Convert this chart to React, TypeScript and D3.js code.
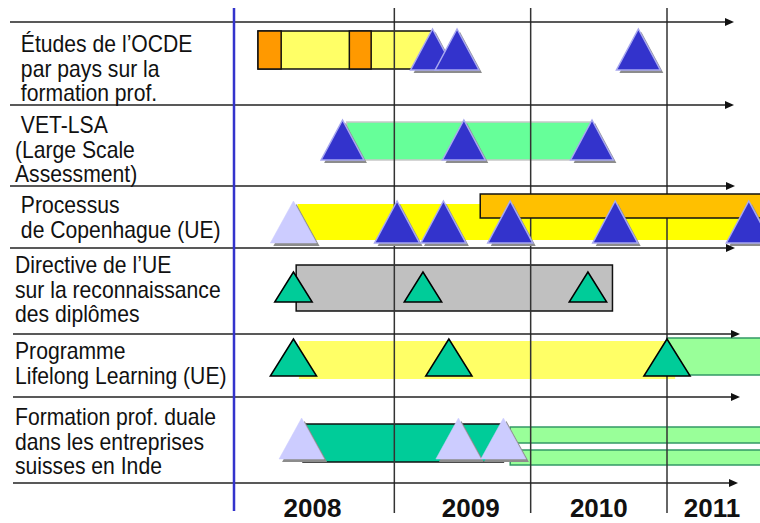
import React from 'react';
import * as d3 from 'd3';

// ---------- DATA ----------
const YEARS = [2008, 2009, 2010, 2011];
const YEAR_LABEL_AT = [2008.4, 2009.56, 2010.5, 2011.33];
const GRID_YEARS = [2009, 2010, 2011];

const ROW_LABELS: string[][] = [
  [' Études de l’OCDE', ' par pays sur la', ' formation prof.'],
  [' VET-LSA', '(Large Scale', 'Assessment)'],
  [' Processus', ' de Copenhague (UE)'],
  ['Directive de l’UE', 'sur la reconnaissance', 'des diplômes'],
  ['Programme', 'Lifelong Learning (UE)'],
  ['Formation prof. duale', 'dans les entreprises', 'suisses en Inde'],
];

// bars: row, start year, end year, lane, colour, border, drawn above the year grid
const BAR_ROW = [0, 0, 0, 1, 2, 2, 3, 4, 4, 5, 5, 5];
const BAR_START = [2008.0, 2008.0, 2008.67, 2008.65, 2008.29, 2009.63, 2008.28, 2008.3, 2011.0, 2008.33, 2009.85, 2009.85];
const BAR_END = [2009.27, 2008.17, 2008.83, 2010.45, 2011.9, 2011.9, 2010.6, 2011.06, 2011.9, 2009.8, 2011.9, 2011.9];
const BAR_LANE = ['ocde', 'ocde', 'ocde', 'vet', 'copY', 'copO', 'dir', 'lllY', 'lllG', 'dual', 'dualA', 'dualB'];
const BAR_FILL = ['#FFFF66', '#FF9900', '#FF9900', '#66FF99', '#FFFF00', '#FFC000', '#C0C0C0', '#FFFF66', '#99FF99', '#00CC99', '#99FF99', '#99FF99'];
const BAR_STROKE = ['#111', '#111', '#111', '#C8C8C8', 'none', '#111', '#111', 'none', '#339966', '#111', '#339966', '#339966'];
const BAR_ABOVE = [false, false, false, false, false, true, false, false, false, false, false, false];

// milestones: row, year, kind
const MS_ROW = [0, 0, 0, 1, 1, 1, 2, 2, 2, 2, 2, 2, 3, 3, 3, 4, 4, 4, 5, 5, 5];
const MS_YEAR = [2009.28, 2009.46, 2010.79, 2008.62, 2009.51, 2010.45, 2008.26, 2009.02, 2009.36, 2009.85, 2010.62, 2011.6, 2008.26, 2009.21, 2010.42, 2008.26, 2009.4, 2011.0, 2008.32, 2009.47, 2009.8];
const MS_KIND = ['blue', 'blue', 'blue', 'blue', 'blue', 'blue', 'lilac', 'blue', 'blue', 'blue', 'blue', 'blue', 'green', 'green', 'green', 'green', 'green', 'green', 'lilac', 'lilac', 'lilac'];

// ---------- LAYOUT ----------
const ROW_LINES = [22, 105, 186, 248, 334, 397, 483];
const ARROW_TIP = [734, 734, 735, 735, 740, 740, 738];
const LABEL_FIRST = [30, 28, 27, 25, 25, 28];
const LANES: Record<string, [number, number]> = {
  ocde: [31, 69], vet: [122, 160], copY: [204, 240], copO: [194, 218], dir: [265, 311],
  lllY: [341, 379], lllG: [338, 375], dual: [424, 462], dualA: [427, 443], dualB: [450, 465],
};
const MS_Y: [number, number][] = [[29, 70], [120, 160], [201, 243], [272, 302], [339, 376], [418, 459]];
const KIND_STYLE: Record<string, { fill: string; stroke: string; sw: number; ratio: number; shadow: boolean }> = {
  blue: { fill: '#3333CC', stroke: '#A8A8F0', sw: 1.5, ratio: 1.07, shadow: true },
  lilac: { fill: '#CCCCFF', stroke: '#CCCCFF', sw: 0.5, ratio: 1.1, shadow: true },
  green: { fill: '#00CC99', stroke: '#000', sw: 1.5, ratio: 1.25, shadow: false },
};

const FONT = '"Liberation Sans", Arial, Helvetica, sans-serif';

export default function App() {
  const x = d3.scaleLinear().domain([2008, 2011]).range([258, 667]);

  const bar = (i: number) => {
    const [y0, y1] = LANES[BAR_LANE[i]];
    const x0 = x(BAR_START[i]);
    const x1 = Math.min(x(BAR_END[i]), 770);
    return (
      <rect key={'b' + i} x={x0} y={y0} width={x1 - x0} height={y1 - y0}
        fill={BAR_FILL[i]} stroke={BAR_STROKE[i]} strokeWidth={1.5} />
    );
  };

  const tri = (i: number) => {
    const st = KIND_STYLE[MS_KIND[i]];
    const [apex, base] = MS_Y[MS_ROW[i]];
    const h = base - apex;
    const w = h * st.ratio;
    const cx = x(MS_YEAR[i]);
    const p = (dx: number, dy: number) =>
      `M${cx + dx},${apex + dy} L${cx + w / 2 + dx},${base + dy} L${cx - w / 2 + dx},${base + dy} Z`;
    return (
      <g key={'t' + i}>
        {st.shadow && <path d={p(3, 3)} fill="#8C8C8C" />}
        <path d={p(0, 0)} fill={st.fill} stroke={st.stroke} strokeWidth={st.sw} strokeLinejoin="miter" />
      </g>
    );
  };

  const idx = BAR_ROW.map((_, i) => i);

  return (
    <svg width={760} height={523} style={{ position: 'absolute', left: 0, top: 0, background: '#fff' }}>
      <rect width={760} height={523} fill="#fff" />
      {idx.filter(i => !BAR_ABOVE[i]).map(bar)}

      {GRID_YEARS.map(yr => (
        <line key={'g' + yr} x1={x(yr)} x2={x(yr)} y1={8} y2={513} stroke="#333" strokeWidth={1.5} />
      ))}

      {idx.filter(i => BAR_ABOVE[i]).map(bar)}

      {ROW_LINES.map((y, i) => (
        <g key={'r' + i}>
          <line x1={i < 4 ? 10 : 13} x2={ARROW_TIP[i] - 6} y1={y} y2={y} stroke="#222" strokeWidth={1.5} />
          <path d={`M${ARROW_TIP[i]},${y} L${ARROW_TIP[i] - 9},${y - 4} L${ARROW_TIP[i] - 9},${y + 4} Z`} fill="#111" />
        </g>
      ))}

      <line x1={234} x2={234} y1={8} y2={511} stroke="#3333CC" strokeWidth={2.5} />

      {MS_ROW.map((_, i) => tri(i))}

      {ROW_LABELS.map((lines, r) =>
        lines.map((t, j) => (
          <text key={'l' + r + '-' + j}
            transform={`translate(15,${ROW_LINES[r] + LABEL_FIRST[r] + j * 24.5}) scale(0.92,1)`}
            fontFamily={FONT} fontSize={23} fill="#111" style={{ whiteSpace: 'pre' }}>
            {t}
          </text>
        ))
      )}

      {YEARS.map((yr, i) => (
        <text key={'y' + yr} x={x(YEAR_LABEL_AT[i])} y={517} textAnchor="middle"
          fontFamily={FONT} fontSize={26} fontWeight="bold" fill="#111">
          {yr}
        </text>
      ))}
    </svg>
  );
}
